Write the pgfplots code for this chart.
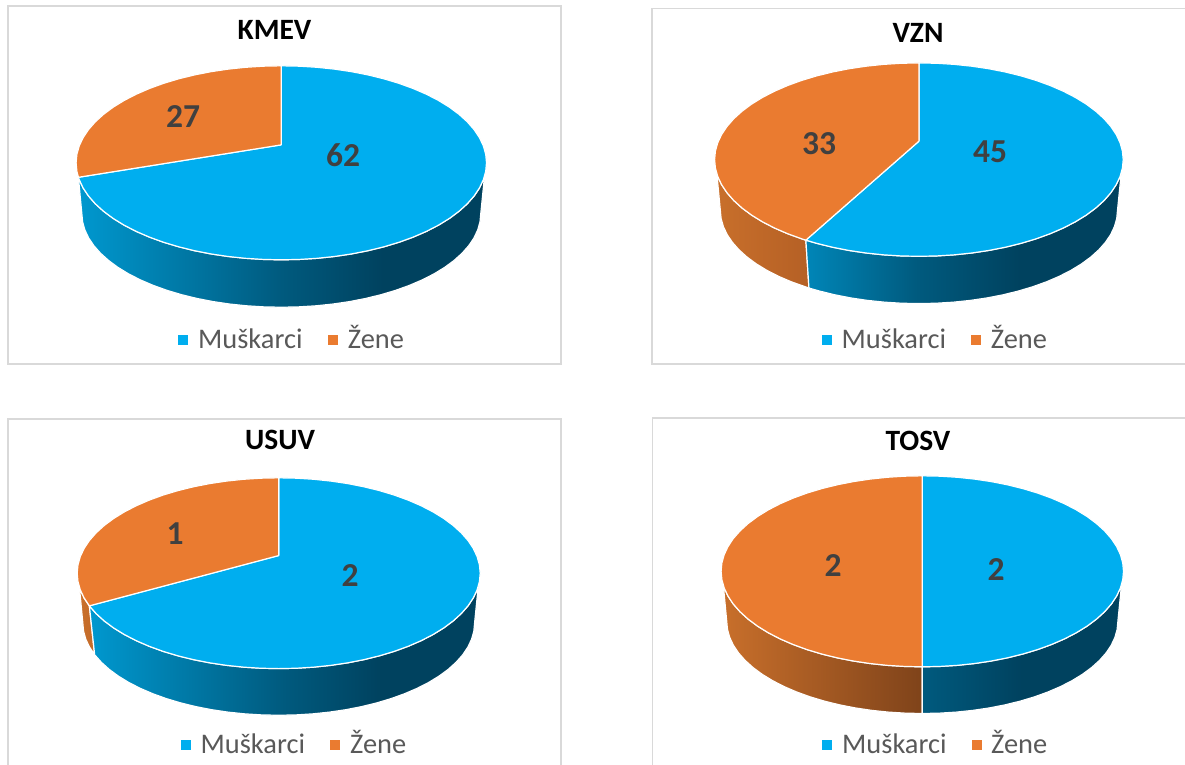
\documentclass[border=0pt]{standalone}
\usepackage{fontspec}
\setmainfont{Carlito}
\usepackage{pgfplots}
\pgfplotsset{compat=1.18}
\definecolor{pb}{HTML}{00AEEF}
\definecolor{po}{HTML}{EA7B30}
\definecolor{bA}{HTML}{0098CF}
\definecolor{bV}{HTML}{0086B8}
\definecolor{bM}{HTML}{005A7E}
\definecolor{bD}{HTML}{00425F}
\definecolor{oA}{HTML}{C86F2B}
\definecolor{oV}{HTML}{B56025}
\definecolor{oU}{HTML}{C46B29}
\definecolor{oT}{HTML}{7F431A}
\definecolor{frm}{HTML}{D9D9D9}
\definecolor{lbl}{HTML}{404040}
\definecolor{leg}{HTML}{595959}
\pgfdeclarehorizontalshading{sideK}{100bp}{color(0bp)=(bA); color(25bp)=(bA); color(50bp)=(bM); color(62.5bp)=(bD); color(100bp)=(bD)}
\pgfdeclarehorizontalshading{sideV}{100bp}{color(0bp)=(bV); color(25bp)=(bV); color(42.7bp)=(bM); color(58.9bp)=(bD); color(100bp)=(bD)}
\pgfdeclarehorizontalshading{sideT}{100bp}{color(0bp)=(bM); color(25bp)=(bM); color(50bp)=(bD); color(100bp)=(bD)}
% top rim, clockwise from the top of the disc, unit coordinates
\def\TopI{(0,1) (.0872,.9962) (.1736,.9848) (.2588,.9659) (.3420,.9397) (.4226,.9063) (.5,.8660) (.5736,.8192) (.6428,.7660) (.7071,.7071) (.7660,.6428) (.8192,.5736) (.8660,.5) (.9063,.4226) (.9397,.3420) (.9659,.2588) (.9848,.1736) (.9962,.0872) (1,0)}
\def\TopII{(.9962,-.0872) \TopIIb}
\def\TopIIb{(.9848,-.1736) (.9659,-.2588) (.9397,-.3420) (.9063,-.4226) (.8660,-.5) (.8192,-.5736) (.7660,-.6428) (.7071,-.7071) (.6428,-.7660) (.5736,-.8192) (.5,-.8660) (.4226,-.9063) (.3420,-.9397) (.2588,-.9659) (.1736,-.9848) (.0872,-.9962) (0,-1)}
\def\TopIIIa{(-.0872,-.9962) (-.1736,-.9848) (-.2588,-.9659) (-.3420,-.9397) (-.4226,-.9063) (-.5,-.8660)}
\def\TopIIIb{(-.5736,-.8192) (-.6428,-.7660) (-.7071,-.7071) (-.7660,-.6428) (-.8192,-.5736) (-.8660,-.5) (-.9063,-.4226)}
\def\TopIIIc{(-.9659,-.2588) (-.9848,-.1736)}
\def\TopEnd{(-.9962,-.0872) (-1,0)}
\def\TopIV{(-.9962,.0872) (-.9848,.1736) (-.9659,.2588) (-.9397,.3420) (-.9063,.4226) (-.8660,.5) (-.8192,.5736) (-.7660,.6428) (-.7071,.7071) (-.6428,.7660) (-.5736,.8192) (-.5,.8660) (-.4226,.9063) (-.3420,.9397) (-.2588,.9659) (-.1736,.9848) (-.0872,.9962) (0,1)}
% lower rim, left to right
\def\BotA{(-.972,-.525) (-.9683,-.6091) (-.9572,-.6923) (-.9389,-.7745)}
\def\BotB{(-.8809,-.9324) (-.8418,-1.007) (-.7963,-1.0779) (-.7446,-1.1447) (-.6873,-1.2067) (-.6248,-1.2634)}
\def\BotC{(-.5575,-1.3147) (-.486,-1.3598) (-.4108,-1.3987) (-.3324,-1.4309) (-.2516,-1.4561) (-.1687,-1.4743) (-.0848,-1.4853)}
\def\BotD{(0,-1.489) (.0848,-1.4853) (.1687,-1.4743) (.2516,-1.4561) (.3324,-1.4309) (.4108,-1.3987) (.486,-1.3598) (.5575,-1.3147) (.6248,-1.2634) (.6873,-1.2067) (.7446,-1.1447) (.7963,-1.0779) (.8418,-1.007) (.8809,-.9324) (.9134,-.8547) (.9389,-.7745) (.9572,-.6923) (.9683,-.6091) (.972,-.525)}
\newcommand\poly[2]{\edef\polytmp{\noexpand\addplot[\unexpanded{#1}] coordinates {#2};}\polytmp}
\pgfplotsset{pie/.style={scale only axis,hide axis,clip=false,xmin=-1,xmax=1,ymin=-1,ymax=1,anchor=center},
  every axis plot/.append style={no marks,draw=white,line width=1.2pt,line join=round,forget plot}}
\newcommand\frameat[4]{\draw[frm,line width=1.5pt] (#1pt,-#2pt) rectangle (#3pt,-#4pt);}
\newcommand\txt[4]{\node[anchor=base,inner sep=0pt,#4] at (#1pt,-#2pt) {#3};}
\newcommand\legendat[6]{%
  \fill[pb] (#1pt,-#5pt) ++(0,5pt) rectangle ++(10pt,-10pt);
  \node[anchor=base west,inner sep=0pt,leg,font=\fontsize{28.4}{29}\selectfont] at (#2pt,-#6pt) {Muškarci};
  \fill[po] (#3pt,-#5pt) ++(0,5pt) rectangle ++(10pt,-10pt);
  \node[anchor=base west,inner sep=0pt,leg,font=\fontsize{28.4}{29}\selectfont] at (#4pt,-#6pt) {Žene};}
\tikzset{ttl/.style={black,font=\fontsize{29.5}{30}\selectfont\bfseries},
  val/.style={lbl,font=\fontsize{33.5}{34}\selectfont\bfseries}}
\begin{document}
\begin{tikzpicture}
\clip (0,0) rectangle (1185pt,-764pt);
\fill[white] (0,0) rectangle (1185pt,-764pt);
\frameat{8}{6}{561}{364}
\frameat{652}{8.5}{1200}{364}
\frameat{8}{419}{561}{780}
\frameat{652.5}{418}{1200}{780}
% KMEV
\begin{axis}[pie,at={(281.3pt,-162.8pt)},width=410.4pt,height=194pt]
\poly{shade,shading=sideK}{(.9903,-.1392) \TopIIb \TopIIIa \TopIIIb (-.9397,-.3420) \TopIIIc (-.9888,-.1495) \BotA (-.9134,-.8547) \BotB \BotC \BotD (.9903,-.1392)}
\poly{fill=pb}{(0,.185) \TopI \TopII \TopIIIa \TopIIIb (-.9397,-.3420) \TopIIIc (-.9888,-.1495) (0,.185)}
\poly{fill=po}{(0,.185) (-.9888,-.1495) \TopEnd \TopIV (0,.185)}
\end{axis}
\txt{274.5}{39}{KMEV}{ttl}
\txt{183}{127.5}{27}{val}
\txt{343}{166.5}{62}{val}
\legendat{178}{198}{327.7}{347.7}{340}{348.6}
% VZN
\begin{axis}[pie,at={(918.9pt,-159.6pt)},width=408.6pt,height=193.4pt]
\poly{left color=oA,right color=oV}{(-.5534,-.8329) (-.5736,-.8192) (-.6428,-.7660) (-.7071,-.7071) (-.7660,-.6428) (-.8192,-.5736) (-.8660,-.5) (-.9063,-.4226) (-.9397,-.3420) \TopIIIc (-.9888,-.1495) \BotA (-.9134,-.8547) \BotB (-.5382,-1.3285) (-.5534,-.8329)}
\poly{shade,shading=sideV}{(.9903,-.1392) \TopIIb \TopIIIa (-.5534,-.8329) (-.5382,-1.3285) (-.486,-1.3598) (-.4108,-1.3987) (-.3324,-1.4309) (-.2516,-1.4561) (-.1687,-1.4743) (-.0848,-1.4853) \BotD (.9903,-.1392)}
\poly{fill=pb}{(0,.19) \TopI \TopII \TopIIIa (-.5534,-.8329) (0,.19)}
\poly{fill=po}{(0,.19) (-.5534,-.8329) \TopIIIb (-.9397,-.3420) \TopIIIc \TopEnd \TopIV (0,.19)}
\end{axis}
\txt{918}{42}{VZN}{ttl}
\txt{819}{154.5}{33}{val}
\txt{990}{162.5}{45}{val}
\legendat{821.7}{841.5}{971}{990.7}{340}{348.6}
% USUV
\begin{axis}[pie,at={(278.7pt,-573.2pt)},width=403pt,height=190.8pt]
\poly{left color=oA,right color=oU}{(-.9397,-.3420) \TopIIIc (-.9888,-.1495) \BotA (-.9134,-.8547) (-.9397,-.3420)}
\poly{shade,shading=sideK}{(.9903,-.1392) \TopIIb \TopIIIa \TopIIIb (-.9397,-.3420) (-.9134,-.8547) \BotB \BotC \BotD (.9903,-.1392)}
\poly{fill=pb}{(0,.185) \TopI \TopII \TopIIIa \TopIIIb (-.9397,-.3420) (0,.185)}
\poly{fill=po}{(0,.185) (-.9397,-.3420) \TopIIIc \TopEnd \TopIV (0,.185)}
\end{axis}
\txt{280}{449.5}{USUV}{ttl}
\txt{175}{544}{1}{val}
\txt{350}{586}{2}{val}
\legendat{181}{200.5}{330}{350}{745}{753.6}
% TOSV
\begin{axis}[pie,at={(922.3pt,-571.3pt)},width=402.4pt,height=191pt]
\poly{left color=oA,right color=oT}{(0,-1) \TopIIIa \TopIIIb (-.9397,-.3420) \TopIIIc (-.9888,-.1495) \BotA (-.9134,-.8547) \BotB \BotC (0,-1.489) (0,-1)}
\poly{shade,shading=sideT}{(.9903,-.1392) \TopIIb \BotD (.9903,-.1392)}
\poly{fill=pb}{(0,.185) \TopI \TopII (0,.185)}
\poly{fill=po}{(0,.185) (0,-1) \TopIIIa \TopIIIb (-.9397,-.3420) \TopIIIc \TopEnd \TopIV (0,.185)}
\end{axis}
\txt{918}{450.8}{TOSV}{ttl}
\txt{833}{576.5}{2}{val}
\txt{996}{580.5}{2}{val}
\legendat{822}{842}{972}{991}{745}{753.6}
\end{tikzpicture}
\end{document}
